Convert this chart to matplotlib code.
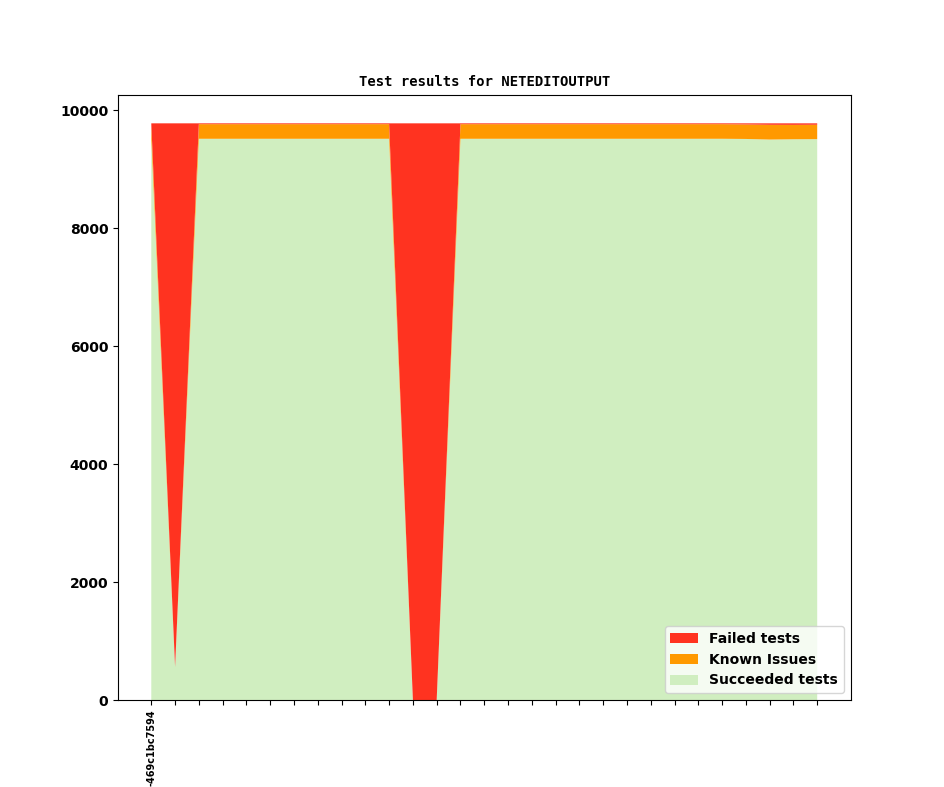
import matplotlib
matplotlib.use("Agg")
import matplotlib.pyplot as plt
import numpy as np

n_points = 29
tick_labels = ["-469c1bc7594"] + [""] * (n_points - 1)

succeeded = [9518, 560, 9518, 9518, 9518, 9518, 9518, 9518, 9518, 9518,
             9518, 0, 0, 9518, 9518, 9518, 9518, 9518, 9518, 9518,
             9518, 9518, 9518, 9518, 9518, 9515, 9505, 9510, 9512]
known = [250, 0, 248, 248, 248, 248, 248, 248, 248, 248,
         248, 0, 0, 248, 248, 248, 248, 248, 248, 248,
         248, 248, 248, 248, 248, 246, 250, 244, 244]
failed = [12, 9220, 14, 14, 14, 14, 14, 14, 14, 14,
          14, 9780, 9780, 14, 14, 14, 14, 14, 14, 14,
          14, 14, 14, 14, 14, 19, 25, 26, 24]

labels = ["Succeeded tests", "Known Issues", "Failed tests"]
colors = ["#d0eec0", "#ff9900", "#ff3320"]

fig = plt.figure(figsize=(9.44, 7.87), dpi=100)
ax = fig.add_axes([118 / 944, 1 - 700 / 787, (850.5 - 118) / 944, (700 - 94.5) / 787])

x = np.arange(n_points)
polys = ax.stackplot(x, succeeded, known, failed, labels=labels, colors=colors)

ax.set_title("Test results for NETEDITOUTPUT", fontsize=10, fontweight="bold",
             family="DejaVu Sans Mono")
ax.set_xticks(x)
ax.set_xticklabels(tick_labels, rotation=90, fontsize=7, fontweight="bold")
for lbl in ax.get_yticklabels():
    lbl.set_fontweight("bold")
ax.tick_params(axis="y", labelsize=10)

handles, lbls = ax.get_legend_handles_labels()
leg = ax.legend(handles[::-1], lbls[::-1], loc="lower right",
                prop={"weight": "bold", "size": 10})

fig.savefig("out.png", dpi=100)
